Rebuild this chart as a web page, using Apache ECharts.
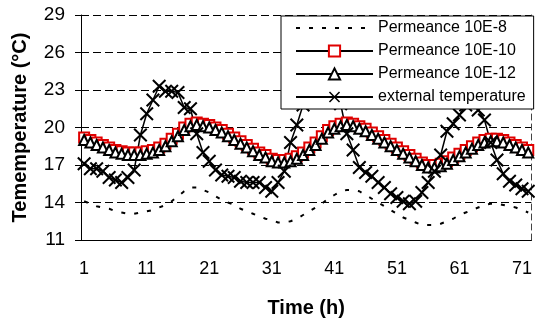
<!DOCTYPE html>
<html>
<head>
<meta charset="utf-8">
<script src="https://cdn.jsdelivr.net/npm/echarts@6/dist/echarts.min.js"></script>
<style>
  html, body { margin: 0; padding: 0; background: #fff; }
  #chart { width: 535px; height: 323px; }
</style>
</head>
<body>
<div id="chart"></div>
<script>
// time axis (h)
var hours = [1, 2, 3, 4, 5, 6, 7, 8, 9, 10, 11, 12, 13, 14, 15, 16, 17, 18, 19, 20, 21, 22, 23, 24,
  25, 26, 27, 28, 29, 30, 31, 32, 33, 34, 35, 36, 37, 38, 39, 40, 41, 42, 43, 44, 45, 46, 47, 48,
  49, 50, 51, 52, 53, 54, 55, 56, 57, 58, 59, 60, 61, 62, 63, 64, 65, 66, 67, 68, 69, 70, 71, 72];

var perm8 = [14.1, 13.9, 13.7, 13.6, 13.5, 13.3, 13.2, 13.1, 13.1, 13.2, 13.3, 13.4, 13.6, 13.8, 14.1, 14.5, 14.9, 15.2, 15.2, 15.0, 14.8, 14.5, 14.2, 14.0,
  13.8, 13.5, 13.3, 13.1, 12.9, 12.7, 12.6, 12.4, 12.4, 12.5, 12.7, 13.0, 13.3, 13.6, 13.9, 14.3, 14.6, 14.9, 15.0, 15.0, 14.9, 14.6, 14.3, 14.0,
  13.7, 13.4, 13.1, 12.8, 12.6, 12.4, 12.2, 12.2, 12.2, 12.3, 12.5, 12.7, 13.0, 13.2, 13.4, 13.6, 13.8, 13.9, 13.9, 13.8, 13.7, 13.6, 13.4, 13.2];

var perm10 = [19.2, 19.0, 18.8, 18.6, 18.4, 18.2, 18.1, 18.0, 18.0, 18.0, 18.1, 18.2, 18.4, 18.7, 19.1, 19.5, 20.0, 20.3, 20.4, 20.3, 20.2, 20.0, 19.8, 19.5,
  19.2, 18.9, 18.6, 18.3, 18.0, 17.8, 17.5, 17.4, 17.4, 17.5, 17.7, 18.0, 18.4, 18.8, 19.3, 19.8, 20.1, 20.3, 20.4, 20.3, 20.1, 19.9, 19.6, 19.3,
  19.0, 18.7, 18.4, 18.1, 17.8, 17.5, 17.2, 17.0, 17.0, 17.1, 17.3, 17.6, 17.9, 18.2, 18.5, 18.8, 19.0, 19.1, 19.1, 19.0, 18.8, 18.6, 18.4, 18.2];

var perm12 = [19.0, 18.8, 18.6, 18.4, 18.2, 18.0, 17.9, 17.8, 17.8, 17.8, 17.9, 18.0, 18.2, 18.5, 18.9, 19.3, 19.8, 20.1, 20.2, 20.1, 20.0, 19.8, 19.6, 19.3,
  19.0, 18.7, 18.4, 18.1, 17.8, 17.6, 17.3, 17.2, 17.2, 17.3, 17.5, 17.8, 18.2, 18.6, 19.1, 19.6, 19.9, 20.1, 20.2, 20.1, 19.9, 19.7, 19.4, 19.1,
  18.8, 18.5, 18.2, 17.9, 17.6, 17.3, 17.0, 16.8, 16.8, 16.9, 17.1, 17.4, 17.7, 18.0, 18.3, 18.6, 18.8, 18.9, 18.9, 18.8, 18.6, 18.4, 18.2, 18.0];

var extTemp = [17.1, 16.7, 16.7, 16.5, 16.0, 15.8, 15.6, 16.0, 16.6, 19.4, 21.1, 22.2, 23.3, 22.9, 22.9, 22.8, 21.6, 21.5, 19.5, 18.0, 17.3, 16.6, 16.2, 16.1,
  16.0, 15.7, 15.6, 15.6, 15.6, 15.2, 14.9, 15.6, 16.5, 18.8, 20.2, 21.8, 23.5, 24.5, 25.0, 24.5, 23.5, 21.9, 19.5, 18.2, 16.8, 16.4, 16.1, 15.6,
  15.2, 14.7, 14.4, 14.1, 13.9, 14.1, 14.8, 15.6, 16.5, 17.8, 19.7, 20.3, 21.0, 21.8, 22.2, 21.4, 20.6, 18.8, 17.4, 16.3, 15.7, 15.4, 15.1, 14.9];

var yMin = 11, yMax = 29, yStep = 3;

var FONT = "'Liberation Sans', Arial, sans-serif";
var crossPath = "path://M1,0 L5,4 L9,0 L10,1 L6,5 L10,9 L9,10 L5,6 L1,10 L0,9 L4,5 L0,1 Z";

var chart = echarts.init(document.getElementById("chart"));
chart.setOption({
  animation: false,
  backgroundColor: "#fff",
  grid: { left: 81, right: 3, top: 15, bottom: 82 },
  legend: {
    orient: "vertical",
    left: 281,
    top: 16,
    padding: [4, 8, 4, 14],
    itemWidth: 77,
    itemHeight: 14,
    itemGap: 7,
    backgroundColor: "#fff",
    borderColor: "#000",
    borderWidth: 1,
    borderRadius: 0,
    selectedMode: false,
    textStyle: { fontFamily: FONT, fontSize: 16, color: "#000" },
    data: ["Permeance 10E-8", "Permeance 10E-10", "Permeance 10E-12", "external temperature"]
  },
  xAxis: {
    type: "category",
    data: hours,
    boundaryGap: true,
    name: "Time (h)",
    nameLocation: "middle",
    nameGap: 58,
    nameTextStyle: { fontFamily: FONT, fontSize: 20, fontWeight: "bold", color: "#000" },
    axisLine: { lineStyle: { color: "#000", width: 1 } },
    axisTick: { interval: 0, length: 6, lineStyle: { color: "#000" } },
    axisLabel: { interval: 9, margin: 20, fontFamily: FONT, fontSize: 18, color: "#000" },
    splitLine: { show: false }
  },
  yAxis: [
    {
      type: "value",
      min: yMin,
      max: yMax,
      interval: yStep,
      name: "Tememperature (°C)",
      nameLocation: "middle",
      nameGap: 51,
      nameTextStyle: { fontFamily: FONT, fontSize: 20, fontWeight: "bold", color: "#000" },
      axisLine: { show: true, lineStyle: { color: "#000", width: 1 } },
      axisTick: { show: true, length: 6, lineStyle: { color: "#000" } },
      axisLabel: { margin: 16, fontFamily: FONT, fontSize: 19, color: "#000" },
      splitLine: { show: true, lineStyle: { color: "#000", type: [8, 4], width: 1 } }
    },
    {
      type: "value",
      position: "right",
      min: yMin,
      max: yMax,
      interval: yStep,
      axisLine: { show: true, lineStyle: { color: "#444", type: [6, 4], width: 1 } },
      axisTick: { show: false },
      axisLabel: { show: false },
      splitLine: { show: false }
    }
  ],
  series: [
    {
      name: "Permeance 10E-8",
      type: "line",
      data: perm8,
      symbol: "none",
      lineStyle: { color: "#000", width: 2, type: [4, 9] },
      itemStyle: { color: "rgba(0,0,0,0)" },
      emphasis: { disabled: true }
    },
    {
      name: "Permeance 10E-10",
      type: "line",
      data: perm10,
      symbol: "emptyRect",
      symbolSize: 10,
      showAllSymbol: true,
      lineStyle: { color: "#000", width: 1.5 },
      itemStyle: { color: "#e00000", borderColor: "#e00000", borderWidth: 2 },
      emphasis: { disabled: true }
    },
    {
      name: "Permeance 10E-12",
      type: "line",
      data: perm12,
      symbol: "emptyTriangle",
      symbolSize: 10,
      showAllSymbol: true,
      lineStyle: { color: "#000", width: 1.5 },
      itemStyle: { color: "#000", borderColor: "#000", borderWidth: 2 },
      emphasis: { disabled: true }
    },
    {
      name: "external temperature",
      type: "line",
      data: extTemp,
      symbol: crossPath,
      symbolSize: 14,
      showAllSymbol: true,
      lineStyle: { color: "#000", width: 1.5 },
      itemStyle: { color: "#000" },
      emphasis: { disabled: true }
    }
  ]
});
</script>
</body>
</html>
